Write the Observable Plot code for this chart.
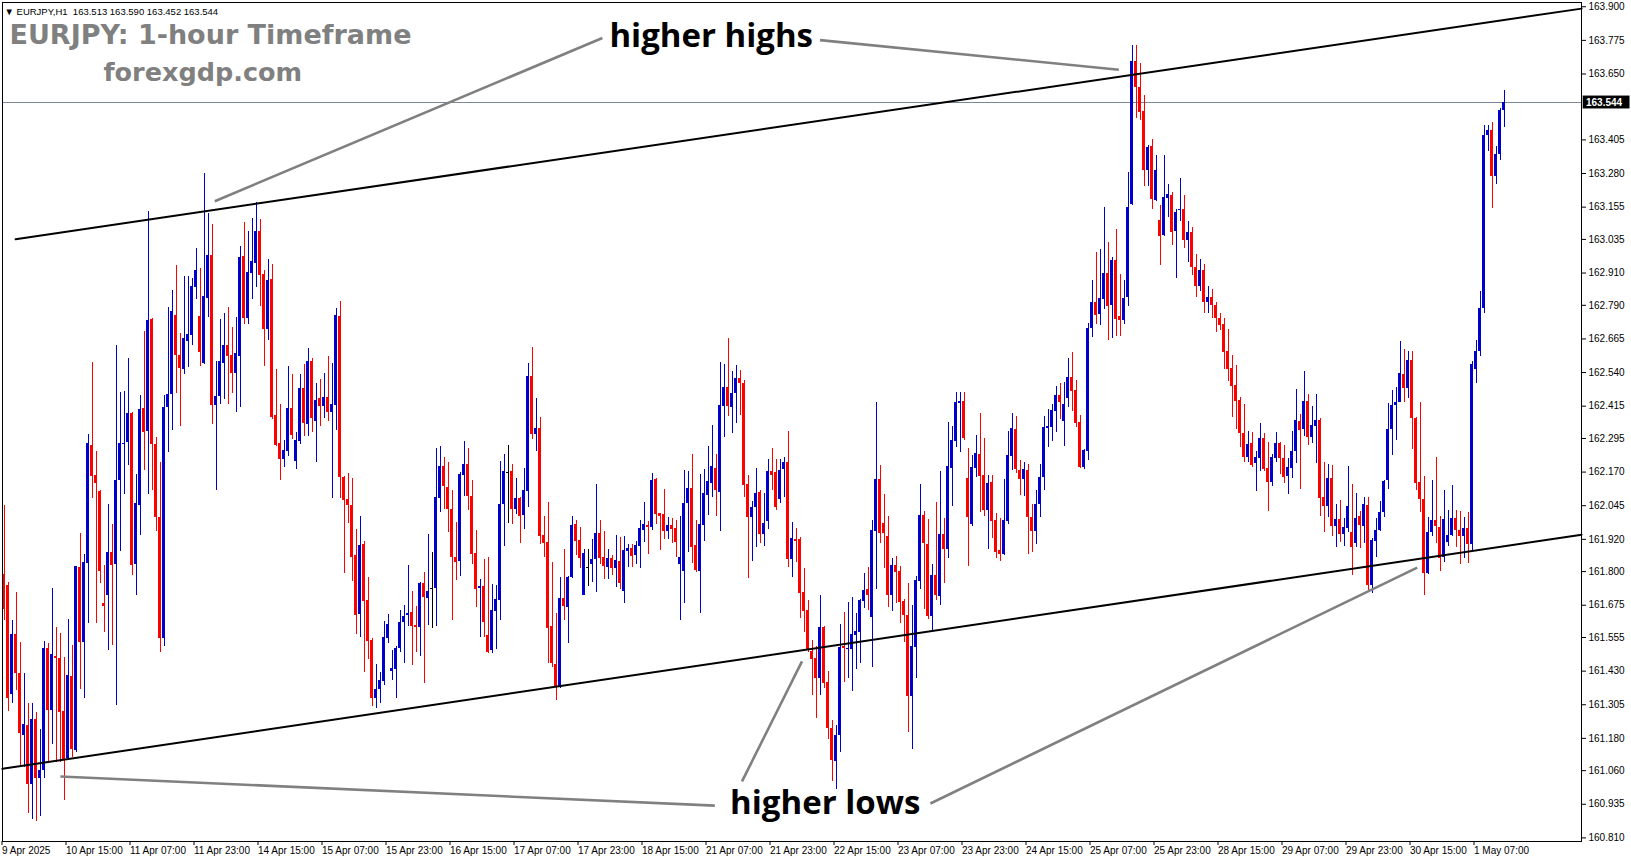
<!DOCTYPE html>
<html><head><meta charset="utf-8">
<script src="https://cdn.jsdelivr.net/npm/d3@7"></script>
<script src="https://cdn.jsdelivr.net/npm/@observablehq/plot@0.6"></script>
<style>body{margin:0;background:#fff;overflow:hidden}#chart svg{display:block}</style>
</head><body><div id="chart"></div>
<script>
// ---- data (EURJPY H1, bar index 0 = 9 Apr 2025 23:00) ----
const open = [161.789,161.748,161.344,161.568,161.421,161.192,161.229,161.009,161.250,161.029,
161.060,161.514,161.282,161.486,161.477,161.279,161.106,161.409,161.135,161.816,
161.535,161.831,162.268,162.156,162.098,161.680,161.712,161.871,161.828,162.138,
162.271,162.280,162.387,161.828,162.047,162.405,162.322,162.737,162.272,162.000,
161.550,162.409,162.457,162.752,162.604,162.552,162.655,162.677,162.857,162.748,
162.575,162.816,162.975,162.417,162.451,162.575,162.640,162.603,162.537,162.601,
162.971,162.742,162.909,162.947,163.064,162.904,162.700,162.885,162.380,162.277,
162.216,162.246,162.407,162.209,162.284,162.482,162.347,162.581,162.359,162.445,
162.414,162.448,162.393,162.417,162.748,162.151,162.068,162.046,161.860,161.642,
161.901,161.693,161.544,161.330,161.360,161.393,161.553,161.430,161.436,161.515,
161.612,161.638,161.647,161.600,161.592,161.755,161.701,161.736,161.736,162.070,
162.190,162.114,162.030,161.853,161.838,162.157,162.200,162.079,161.866,161.738,
161.744,161.562,161.506,161.653,161.692,162.049,162.169,162.172,162.030,162.073,
162.008,162.099,162.525,162.309,162.333,161.934,161.909,161.596,161.454,161.374,
161.701,161.667,161.779,161.974,161.915,161.711,161.816,161.825,161.844,161.943,
161.851,161.817,161.847,161.813,161.839,161.727,161.876,161.885,161.860,161.895,
161.953,161.971,161.965,162.142,162.015,162.012,161.949,161.971,161.959,161.826,
161.802,162.052,162.110,161.897,161.802,161.971,162.083,162.126,162.184,162.095,
162.415,162.486,162.411,162.464,162.517,162.498,162.123,162.002,162.039,162.095,
161.938,161.987,162.172,162.167,162.068,162.179,162.206,161.845,161.918,161.919,
161.723,161.655,161.504,161.478,161.404,161.593,161.389,161.218,161.095,161.190,
161.523,161.509,161.509,161.562,161.575,161.690,161.732,161.630,161.950,162.142,
161.977,161.930,161.711,161.823,161.800,161.689,161.637,161.337,161.519,161.764,
162.008,161.901,161.634,161.785,161.709,161.938,161.881,162.184,162.283,162.426,
162.432,162.147,161.975,162.184,162.235,162.157,162.027,162.132,161.990,161.878,
161.863,161.987,162.228,162.328,162.176,162.142,162.176,162.002,161.950,162.050,
162.150,162.333,162.337,162.396,162.454,162.359,162.444,162.520,162.473,162.353,
162.188,162.247,162.702,162.799,162.755,162.811,162.910,162.789,162.956,162.748,
162.733,162.820,163.163,163.696,163.600,163.510,163.291,163.380,163.179,163.105,
163.049,163.188,163.198,163.064,163.142,163.148,163.030,163.060,162.930,162.860,
162.920,162.800,162.820,162.790,162.740,162.718,162.618,162.556,162.491,162.436,
162.312,162.225,162.275,162.203,162.221,162.293,162.185,162.132,162.221,162.275,
162.219,162.154,162.184,162.246,162.358,162.328,162.432,162.299,162.339,162.361,
162.074,162.043,162.145,161.966,161.993,161.938,161.962,161.945,161.904,162.005,
161.968,162.044,161.750,161.912,161.953,162.018,162.137,162.329,162.416,162.427,
162.533,162.480,162.585,162.371,162.131,162.067,161.792,161.947,161.991,161.963,
161.852,161.910,161.935,161.999,161.953,161.929,161.960,161.900,162.550,162.620,
162.780,163.420,163.440,163.270,163.350,163.513];
const high = [162.044,161.760,161.618,161.722,161.536,161.421,161.311,161.311,161.276,161.214,
161.539,161.532,161.737,161.592,161.571,161.481,161.621,161.525,161.820,161.943,
161.864,162.309,162.579,162.247,162.102,161.821,162.049,161.975,162.641,162.466,
162.470,162.593,162.391,162.160,162.453,162.691,163.139,162.742,162.300,162.207,
162.454,162.783,162.845,162.938,162.686,162.897,162.897,162.890,163.001,162.928,
163.281,163.132,163.090,162.581,162.736,162.758,162.783,162.708,162.746,163.008,
163.099,163.065,163.113,163.173,163.109,162.919,162.960,162.941,162.551,162.423,
162.287,162.563,162.532,162.318,162.533,162.570,162.628,162.591,162.498,162.514,
162.535,162.600,162.572,162.777,162.804,162.155,162.166,162.147,161.957,162.005,
161.912,161.779,161.550,161.455,161.426,161.614,161.640,161.507,161.520,161.655,
161.674,161.823,161.726,161.670,161.761,161.795,161.938,161.870,162.256,162.266,
162.225,162.206,162.101,161.983,162.169,162.283,162.258,162.138,161.952,161.770,
161.845,161.851,161.752,161.748,162.210,162.237,162.268,162.200,162.147,162.076,
162.184,162.574,162.634,162.444,162.374,162.004,162.058,161.832,161.645,161.779,
161.881,161.783,162.004,161.990,161.965,161.881,161.884,161.919,162.124,161.990,
161.949,161.882,161.860,161.934,161.928,161.930,161.901,161.901,161.913,161.990,
162.056,161.986,162.166,162.147,162.017,162.105,162.002,161.999,161.990,162.005,
162.176,162.173,162.235,161.990,162.161,162.178,162.265,162.343,162.235,162.576,
162.570,162.665,162.544,162.566,162.547,162.510,162.157,162.061,162.182,162.101,
162.092,162.216,162.256,162.216,162.216,162.225,162.320,161.981,161.959,161.928,
161.810,161.692,161.544,161.523,161.711,161.595,161.428,161.246,161.228,161.603,
161.649,161.686,161.702,161.646,161.696,161.794,161.814,161.990,162.429,162.194,
162.086,162.005,161.847,161.856,161.819,161.695,161.757,161.674,161.782,162.124,
162.023,161.993,161.825,162.058,162.173,161.996,162.353,162.339,162.467,162.467,
162.467,162.259,162.231,162.306,162.389,162.296,162.157,162.157,162.017,161.996,
162.142,162.322,162.389,162.376,162.213,162.207,162.198,162.050,162.100,162.200,
162.376,162.402,162.420,162.488,162.498,162.504,162.591,162.615,162.510,162.380,
162.255,162.724,162.882,162.987,162.997,163.154,163.024,162.968,163.071,162.904,
162.884,163.282,163.755,163.755,163.690,163.569,163.384,163.408,163.346,163.161,
163.346,163.241,163.210,163.146,163.262,163.200,163.100,163.080,162.980,162.960,
162.940,162.860,162.850,162.800,162.760,162.740,162.700,162.603,162.566,162.446,
162.421,162.320,162.318,162.246,162.351,162.314,162.281,162.234,162.318,162.281,
162.268,162.221,162.320,162.477,162.384,162.543,162.458,162.413,162.458,162.368,
162.204,162.198,162.195,162.050,162.065,161.997,162.191,162.124,162.090,162.024,
162.077,162.074,161.922,161.997,162.059,162.139,162.424,162.474,162.486,162.656,
162.626,162.619,162.619,162.372,162.430,162.154,162.000,162.139,162.226,162.005,
162.102,162.028,162.121,162.028,162.022,162.000,162.020,162.580,162.660,162.840,
163.460,163.460,163.470,163.380,163.520,163.590];
const low = [161.618,161.279,161.311,161.359,161.070,161.070,160.900,160.880,160.870,160.890,
161.029,161.091,161.156,161.091,161.091,160.950,161.096,161.110,161.127,161.363,
161.327,161.608,162.073,161.608,161.756,161.575,161.506,161.525,161.304,161.875,
162.088,162.193,161.784,161.712,161.936,162.177,162.085,162.100,161.950,161.500,
161.520,162.244,162.324,162.464,162.339,162.532,162.560,162.640,162.811,162.563,
162.570,162.746,162.347,162.100,162.423,162.438,162.423,162.464,162.392,162.411,
162.717,162.717,162.811,162.857,162.786,162.563,162.659,162.364,162.266,162.140,
162.188,162.228,162.291,162.179,162.272,162.303,162.303,162.318,162.207,162.341,
162.368,162.359,162.073,162.324,162.073,161.792,161.978,161.764,161.566,161.556,
161.426,161.473,161.300,161.290,161.310,161.377,161.534,161.395,161.330,161.500,
161.460,161.597,161.451,161.500,161.484,161.383,161.600,161.587,161.596,162.018,
162.030,161.946,161.618,161.767,161.783,162.079,162.027,161.826,161.667,161.556,
161.556,161.496,161.496,161.510,161.618,161.893,161.980,161.975,162.012,161.905,
161.956,162.039,162.291,162.246,161.900,161.853,161.459,161.444,161.321,161.366,
161.620,161.534,161.775,161.860,161.810,161.711,161.744,161.758,161.724,161.826,
161.771,161.771,161.786,161.742,161.734,161.683,161.817,161.817,161.826,161.813,
161.909,161.862,161.953,161.974,161.878,161.919,161.919,161.906,161.854,161.618,
161.683,161.870,161.831,161.795,161.646,161.913,162.009,162.077,162.005,161.949,
162.300,162.377,162.315,162.349,162.380,162.076,161.775,161.837,161.891,161.903,
161.894,161.956,162.101,162.027,162.052,162.076,161.816,161.779,161.835,161.627,
161.572,161.500,161.339,161.255,161.339,161.364,161.176,161.020,160.990,161.129,
161.389,161.404,161.355,161.435,161.457,161.661,161.655,161.442,161.732,161.903,
161.810,161.668,161.653,161.682,161.608,161.535,161.200,161.140,161.401,161.733,
161.658,161.621,161.581,161.692,161.674,161.757,161.847,162.042,162.262,162.244,
162.287,161.820,161.968,162.151,162.021,162.006,161.882,161.924,161.850,161.839,
161.860,161.974,162.176,162.163,162.083,162.080,161.863,161.870,161.900,162.000,
162.100,162.262,162.285,162.318,162.365,162.266,162.411,162.396,162.334,162.182,
162.178,162.213,162.671,162.718,162.714,162.774,162.659,162.665,162.674,162.674,
162.718,162.785,163.160,163.483,163.476,163.231,163.231,163.146,163.175,162.938,
163.045,163.117,163.012,162.890,163.102,163.000,162.950,162.900,162.820,162.840,
162.760,162.760,162.740,162.690,162.698,162.551,162.508,162.374,162.328,162.262,
162.206,162.206,162.188,162.099,162.173,162.173,162.024,162.117,162.206,162.161,
162.126,162.085,162.145,162.203,162.107,162.303,162.268,162.277,162.203,162.006,
161.944,162.000,161.929,161.888,161.910,161.895,161.945,161.786,161.888,161.885,
161.906,161.730,161.720,161.852,161.950,162.003,162.106,162.232,162.288,162.427,
162.428,162.445,162.254,162.102,162.018,161.710,161.789,161.929,161.906,161.802,
161.832,161.894,161.929,161.888,161.827,161.850,161.830,161.880,162.500,162.600,
162.760,163.360,163.150,163.240,163.330,163.452];
const close = [161.659,161.330,161.568,161.421,161.197,161.232,161.009,161.250,161.029,161.062,
161.514,161.283,161.491,161.477,161.275,161.103,161.412,161.139,161.818,161.535,
161.832,162.275,162.153,162.128,161.802,161.672,161.871,161.823,162.138,162.275,
162.278,162.387,161.823,162.052,162.402,162.319,162.735,162.271,162.000,161.550,
162.411,162.457,162.767,162.604,162.555,162.666,162.681,162.860,162.919,162.615,
162.822,162.975,162.417,162.451,162.581,162.640,162.601,162.537,162.612,162.969,
162.742,162.913,162.952,163.064,162.900,162.700,162.882,162.374,162.268,162.216,
162.250,162.407,162.306,162.287,162.482,162.352,162.582,162.370,162.436,162.414,
162.448,162.393,162.421,162.752,162.151,162.064,162.046,161.854,161.637,161.897,
161.689,161.541,161.330,161.360,161.395,161.554,161.603,161.439,161.515,161.612,
161.633,161.645,161.597,161.592,161.757,161.705,161.726,161.736,162.074,162.191,
162.117,162.030,161.853,161.835,162.161,162.200,162.079,161.863,161.733,161.744,
161.612,161.500,161.655,161.695,162.049,162.172,162.169,162.030,162.073,162.006,
162.101,162.525,162.309,162.333,161.931,161.905,161.589,161.459,161.373,161.701,
161.671,161.779,161.971,161.913,161.847,161.869,161.816,161.845,161.943,161.847,
161.819,161.847,161.813,161.841,161.757,161.878,161.887,161.857,161.897,161.961,
161.975,161.965,162.139,162.011,162.006,161.949,161.971,161.956,161.909,161.851,
162.052,162.110,161.891,161.804,161.975,162.089,162.135,162.191,162.101,162.417,
162.486,162.415,162.464,162.517,162.498,162.120,162.002,162.039,162.092,161.938,
161.977,162.172,162.157,162.039,162.175,162.206,161.845,161.924,161.915,161.720,
161.653,161.506,161.473,161.404,161.593,161.385,161.218,161.098,161.190,161.519,
161.515,161.515,161.566,161.577,161.692,161.729,161.711,161.952,162.142,161.940,
161.943,161.711,161.823,161.798,161.686,161.637,161.337,161.521,161.767,162.008,
161.906,161.634,161.785,161.711,161.938,161.882,162.191,162.287,162.430,162.433,
162.293,162.002,162.188,162.238,162.155,162.027,162.129,161.987,161.872,161.863,
161.990,162.231,162.333,162.178,162.142,162.179,162.002,161.950,162.050,162.150,
162.337,162.339,162.399,162.454,162.430,162.423,162.520,162.470,162.351,162.188,
162.250,162.702,162.799,162.754,162.817,162.907,162.785,162.956,162.737,162.733,
162.817,163.154,163.696,163.600,163.507,163.291,163.377,163.183,163.291,163.047,
163.189,163.201,163.061,163.136,163.148,163.030,163.060,162.930,162.860,162.920,
162.800,162.820,162.790,162.740,162.714,162.615,162.551,162.489,162.433,162.312,
162.225,162.272,162.194,162.223,162.293,162.179,162.132,162.223,162.275,162.219,
162.151,162.188,162.247,162.361,162.324,162.432,162.299,162.343,162.361,162.073,
162.043,162.145,161.966,161.993,161.937,161.963,162.043,161.891,161.999,161.970,
162.049,161.750,161.916,161.953,162.018,162.136,162.329,162.418,162.428,162.536,
162.480,162.585,162.371,162.129,162.067,161.792,161.947,161.991,161.966,161.848,
161.993,161.935,161.999,161.953,161.929,161.960,161.900,162.570,162.620,162.780,
163.420,163.440,163.270,163.350,163.513,163.544];

// axis ticks
const xTickIdx = [0,16,32,48,64,80,96,112,128,144,160,176,192,208,224,240,256,272,288,304,320,336,352,368];
const xTickLabels = ["9 Apr 2025","10 Apr 15:00","11 Apr 07:00","11 Apr 23:00","14 Apr 15:00","15 Apr 07:00","15 Apr 23:00","16 Apr 15:00","17 Apr 07:00","17 Apr 23:00","18 Apr 15:00","21 Apr 07:00","21 Apr 23:00","22 Apr 15:00","23 Apr 07:00","23 Apr 23:00","24 Apr 15:00","25 Apr 07:00","25 Apr 23:00","28 Apr 15:00","29 Apr 07:00","29 Apr 23:00","30 Apr 15:00","1 May 07:00"];
// (the 163.525 level is hidden under the current-price box in the reference)
const yTicks = [163.900,163.775,163.650,163.405,163.280,163.155,163.035,162.910,162.790,162.665,162.540,162.415,162.295,162.170,162.045,161.920,161.800,161.675,161.555,161.430,161.305,161.180,161.060,160.935,160.810];

// trend lines & annotations (bar index, price)
const upperTrend = [{i: 2.9, p: 163.036}, {i: 394.4, p: 163.893}];
const lowerTrend = [{i: -0.4, p: 161.067}, {i: 394.4, p: 161.937}];
const pointers = [
  {i1: 149.6, p1: 163.784, i2: 52.7, p2: 163.177},
  {i1: 204.0, p1: 163.776, i2: 278.7, p2: 163.666},
  {i1: 177.7, p1: 160.930, i2: 14.1, p2: 161.038},
  {i1: 184.5, p1: 161.020, i2: 199.5, p2: 161.466},
  {i1: 231.6, p1: 160.938, i2: 353.3, p2: 161.815}
];
const labels = [
  {i: 176.8, p: 163.788, text: "higher highs"},
  {i: 205.3, p: 160.938, text: "higher lows"}
];
const lastPrice = 163.544;
const header = "\u25BC EURJPY,H1  163.513 163.590 163.452 163.544";

// ---- build ----
const candles = open.map((o, i) => ({i, o, h: high[i], l: low[i], c: close[i]}));
const UP = "#0000cd", DOWN = "#ff0000", DOJI = "#000000";
const col = d => d.c > d.o ? UP : d.c < d.o ? DOWN : DOJI;
const half = 0.375;
const axisFont = "Liberation Sans, Arial, sans-serif";

const chart = Plot.plot({
  width: 1631, height: 861,
  marginLeft: 2, marginRight: 50, marginTop: 2, marginBottom: 20,
  x: {domain: [-0.375, 394.375], axis: null},
  y: {domain: [160.7966, 163.9158], axis: null},
  color: {type: "identity"},
  style: {background: "#ffffff", fontFamily: axisFont, fontSize: "10px", color: "#000"},
  marks: [
    Plot.ruleY([lastPrice], {stroke: "#778899", strokeWidth: 1}),
    Plot.ruleX(candles, {x: "i", y1: "l", y2: "h", stroke: col, strokeWidth: 1, shapeRendering: "crispEdges"}),
    Plot.rect(candles, {x1: d => d.i - half, x2: d => d.i + half, y1: "o", y2: "c", fill: col, shapeRendering: "crispEdges"}),
    Plot.ruleY(candles.filter(d => Math.abs(d.o - d.c) < 0.004), {y: "c", x1: d => d.i - half, x2: d => d.i + half, stroke: col, shapeRendering: "crispEdges"}),
    Plot.line(upperTrend, {x: "i", y: "p", stroke: "#000", strokeWidth: 2}),
    Plot.line(lowerTrend, {x: "i", y: "p", stroke: "#000", strokeWidth: 2}),
    Plot.link(pointers, {x1: "i1", y1: "p1", x2: "i2", y2: "p2", stroke: "#808080", strokeWidth: 2.6}),
    Plot.text(labels, {x: "i", y: "p", text: "text", fontFamily: "Open Sans", fontWeight: 700, fontSize: 33, fill: "#000", stroke: "#fff", strokeWidth: 6, paintOrder: "stroke"}),
    Plot.text(["EURJPY: 1-hour Timeframe"], {frameAnchor: "top-left", dx: 7, dy: 33, lineAnchor: "middle", textAnchor: "start", fontFamily: "DejaVu Sans", fontWeight: 700, fontSize: 27, fill: "#808080"}),
    Plot.text(["forexgdp.com"], {frameAnchor: "top-left", dx: 101, dy: 70, lineAnchor: "middle", textAnchor: "start", fontFamily: "DejaVu Sans", fontWeight: 700, fontSize: 25.5, fill: "#808080"}),
    Plot.text([header], {frameAnchor: "top-left", dx: 2, dy: 9, lineAnchor: "middle", textAnchor: "start", fontSize: 9.5, fill: "#000"}),
    Plot.frame({stroke: "#000", strokeWidth: 1}),
    Plot.axisY({ticks: yTicks, anchor: "right", tickSize: 4, tickPadding: 3, tickFormat: d => d.toFixed(3), fontSize: 10}),
    Plot.axisX({ticks: xTickIdx, anchor: "bottom", tickSize: 4, tickPadding: 1, textAnchor: "start", dx: -2, tickFormat: d => xTickLabels[xTickIdx.indexOf(d)], fontSize: 10}),
    Plot.rect([lastPrice], {x1: 394.8, x2: 406.5, y1: d => d - 0.024, y2: d => d + 0.024, fill: "#000"}),
    Plot.text([lastPrice], {x: 395.5, y: d => d, text: d => d.toFixed(3), textAnchor: "start", fill: "#fff", fontSize: 10, fontWeight: 700})
  ]
});
document.getElementById("chart").appendChild(chart);
</script></body></html>
